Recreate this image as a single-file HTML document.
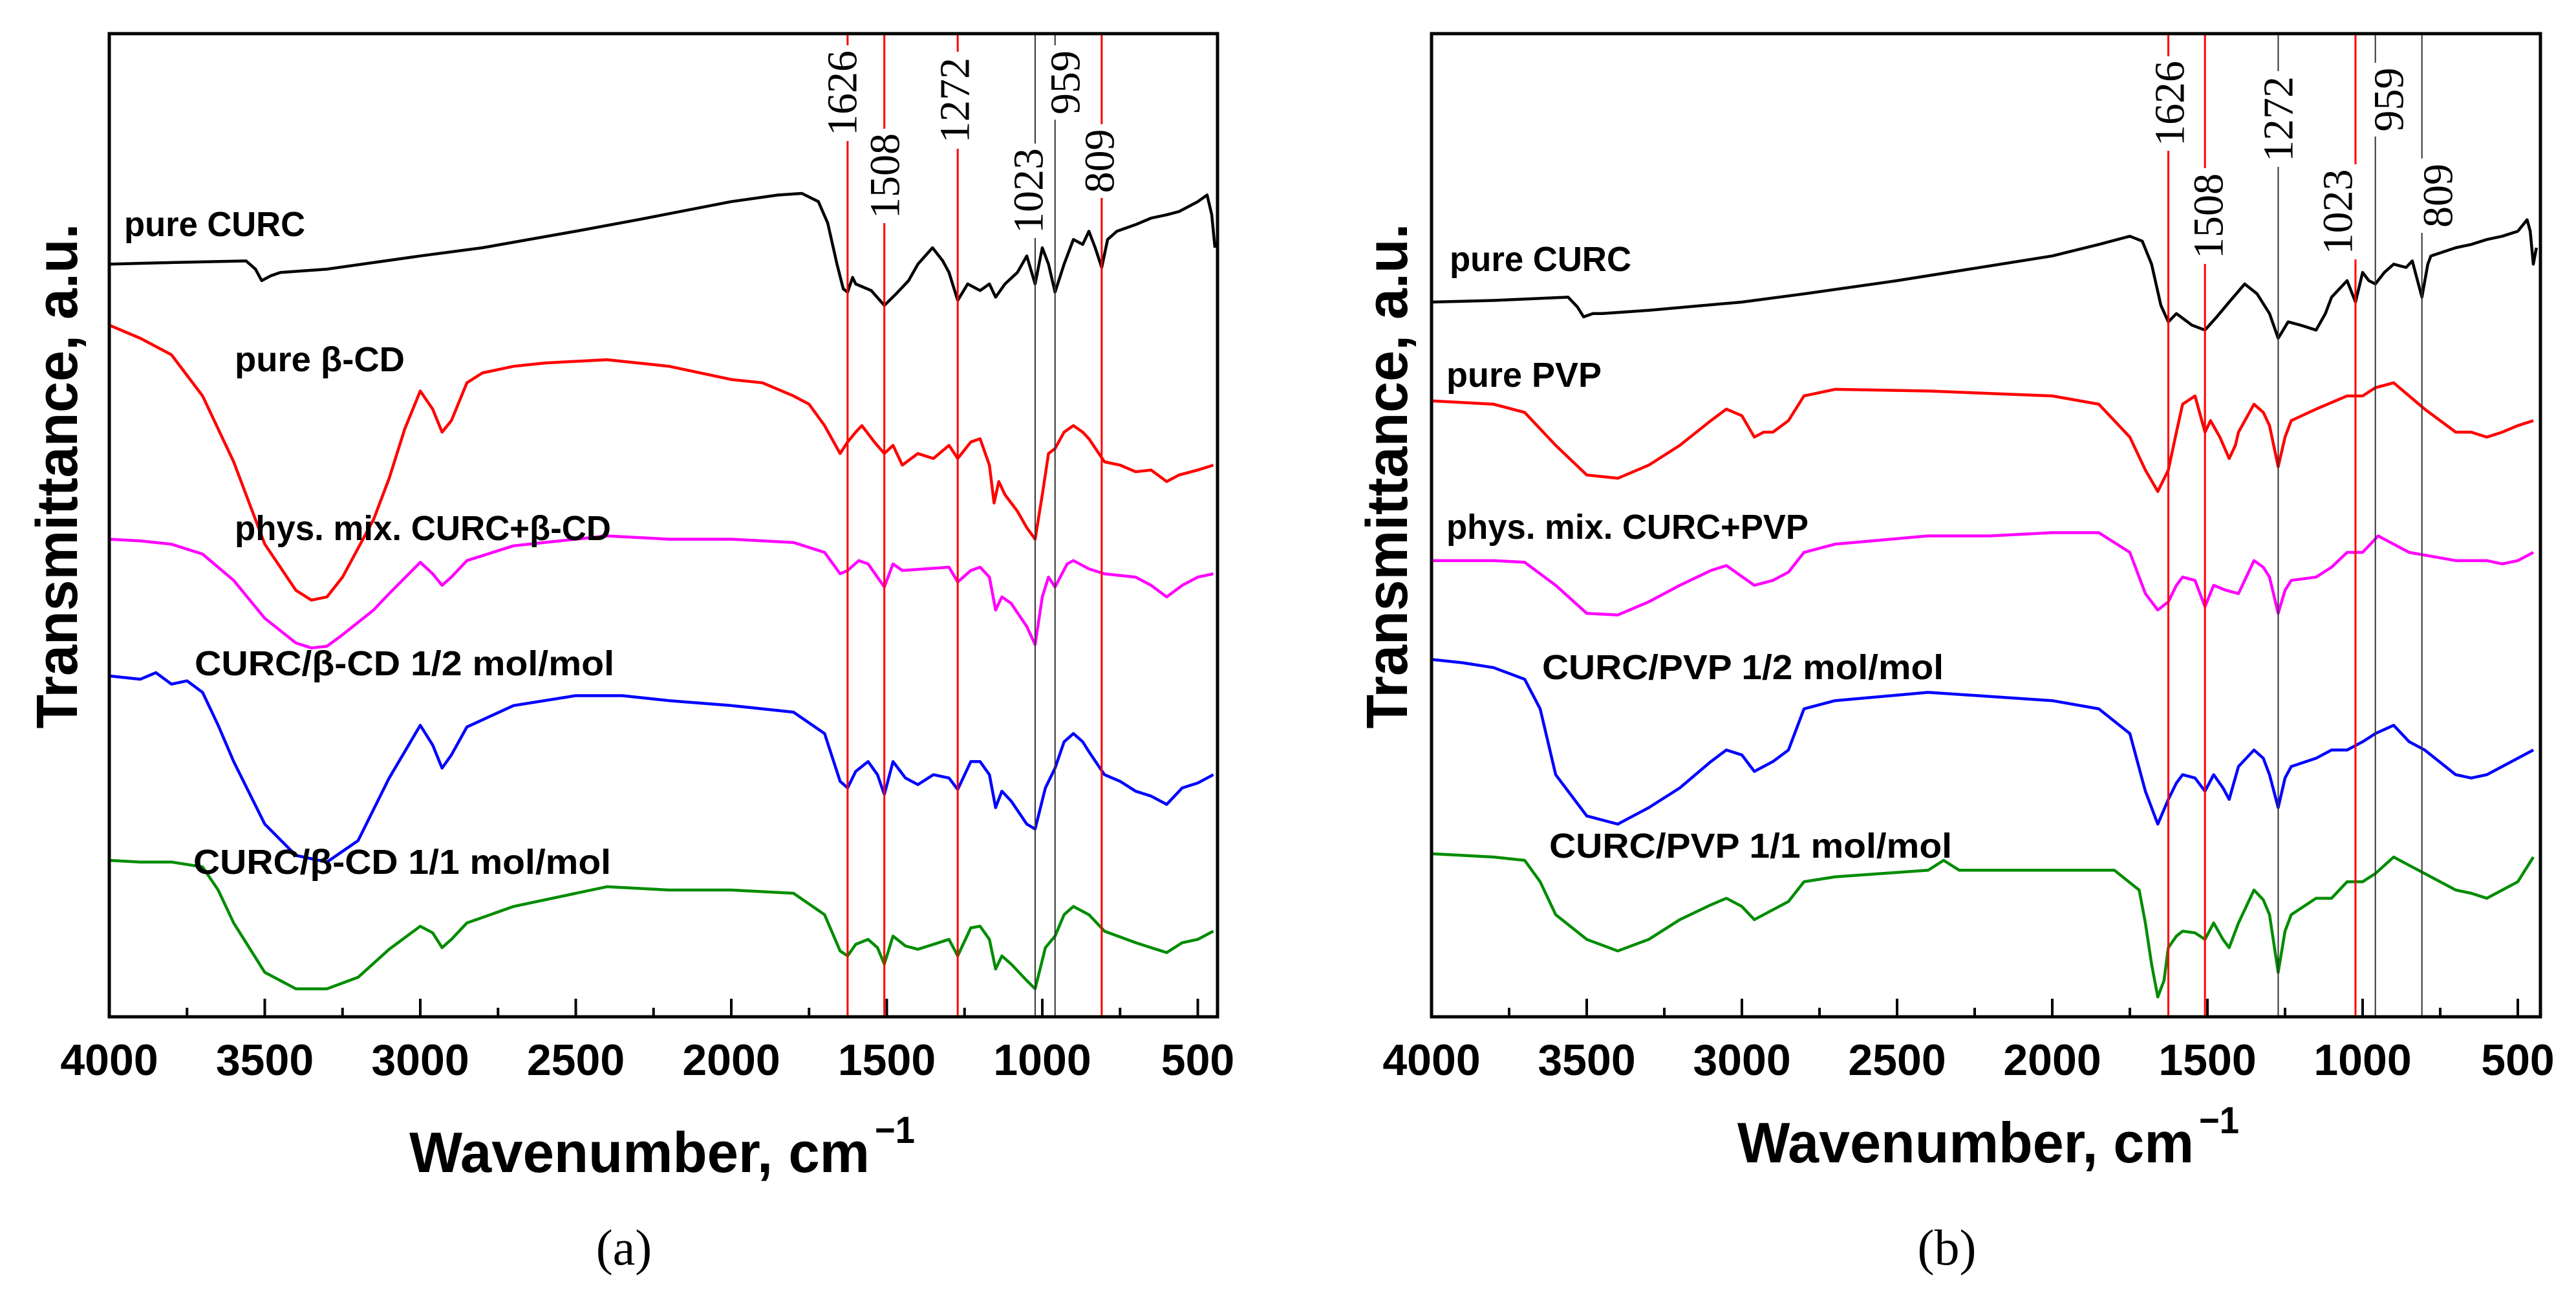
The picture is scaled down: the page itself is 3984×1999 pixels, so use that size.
<!DOCTYPE html>
<html><head><meta charset="utf-8"><style>
html,body{margin:0;padding:0;background:#fff;}
svg{display:block;}
</style></head><body>
<svg id="fig" xmlns="http://www.w3.org/2000/svg" width="3984" height="1999" viewBox="0 0 3984 1999">
<rect x="0" y="0" width="3984" height="1999" fill="#fff"/>
<g id="pa"></g>
<g id="pb"></g>
</svg>
<script>
// ---- data (wavenumber, offset-from-top units; larger = lower transmittance) ----
const tickLabels = [4000,3500,3000,2500,2000,1500,1000,500];
const minorTicks = [3750,3250,2750,2250,1750,1250,750];
const peaksA = [1626,1508,1272,1023,959,809];
const peakColorsA = ['red','red','red','black','black','red'];
const peaksB = [1626,1508,1272,1023,959,809];
const peakColorsB = ['red','red','black','red','black','black'];

const aCurc = [[4000,160],[3800,159],[3560,158],[3530,163],[3510,170],[3480,167],[3450,165],[3300,163],[3000,155],[2800,150],[2500,140],[2300,133],[2000,122],[1850,118],[1773,117],[1720,122],[1690,135],[1660,160],[1640,175],[1626,177],[1610,168],[1600,172],[1550,176],[1508,185],[1470,178],[1430,170],[1400,160],[1353,150],[1320,158],[1300,165],[1272,182],[1240,172],[1200,176],[1170,172],[1150,180],[1120,172],[1080,165],[1050,155],[1023,172],[1000,150],[980,160],[959,177],[930,160],[900,145],[870,148],[850,140],[830,150],[809,162],[790,145],[760,140],[700,136],[650,132],[600,130],[560,128],[500,122],[470,118],[455,130],[445,150]];
const aBcd = [[4000,197],[3900,205],[3800,215],[3700,240],[3600,280],[3500,330],[3400,358],[3350,364],[3300,362],[3250,350],[3150,315],[3100,290],[3050,260],[3000,237],[2960,248],[2930,262],[2900,255],[2850,232],[2800,226],[2700,222],[2600,220],[2400,218],[2200,222],[2000,230],[1900,232],[1800,240],[1750,245],[1700,258],[1650,275],[1626,268],[1600,262],[1580,258],[1540,268],[1508,275],[1480,270],[1450,282],[1400,275],[1350,278],[1300,270],[1272,278],[1230,268],[1200,266],[1170,282],[1155,305],[1140,292],[1120,300],[1080,310],[1050,320],[1023,327],[1000,300],[980,275],[959,272],[930,262],[900,258],[870,262],[850,266],[800,280],[750,282],[700,286],[650,285],[600,292],[560,288],[500,285],[450,282]];
const aMix = [[4000,327],[3900,328],[3800,330],[3700,336],[3600,352],[3500,375],[3400,390],[3350,393],[3300,392],[3250,385],[3150,370],[3100,360],[3000,341],[2960,348],[2930,355],[2900,350],[2850,340],[2700,331],[2400,325],[2200,327],[2000,327],[1800,329],[1700,335],[1650,348],[1626,346],[1590,340],[1560,342],[1508,356],[1480,342],[1450,346],[1300,344],[1272,353],[1230,346],[1200,344],[1170,350],[1150,370],[1130,362],[1100,366],[1050,380],[1023,391],[1000,362],[980,350],[959,356],[920,342],[900,340],[850,345],[800,348],[700,350],[650,355],[600,362],[550,355],[500,350],[450,348]];
const aHalf = [[4000,410],[3900,412],[3850,408],[3800,415],[3750,413],[3700,420],[3650,440],[3600,462],[3500,500],[3400,519],[3300,523],[3200,510],[3100,472],[3000,440],[2960,452],[2930,466],[2900,458],[2850,441],[2700,428],[2500,422],[2350,422],[2200,425],[2000,428],[1800,432],[1700,445],[1650,474],[1626,478],[1600,468],[1560,462],[1530,470],[1508,482],[1480,462],[1440,472],[1400,476],[1350,470],[1300,472],[1272,479],[1230,462],[1200,462],[1170,470],[1150,490],[1130,480],[1100,486],[1050,500],[1023,503],[990,478],[959,466],[930,450],[900,445],[870,450],[850,456],[800,470],[750,474],[700,480],[650,483],[600,488],[550,478],[500,475],[450,470]];
const aOne = [[4000,522],[3900,523],[3800,523],[3700,526],[3650,540],[3600,560],[3500,590],[3400,600],[3300,600],[3200,593],[3100,576],[3000,562],[2960,566],[2930,575],[2900,570],[2850,560],[2700,550],[2400,538],[2200,540],[2000,540],[1800,542],[1700,555],[1650,577],[1626,580],[1600,573],[1560,570],[1530,575],[1508,585],[1480,568],[1440,574],[1400,576],[1300,570],[1272,580],[1230,563],[1200,562],[1170,570],[1150,588],[1130,580],[1100,585],[1050,595],[1023,600],[990,575],[959,568],[930,555],[900,550],[850,555],[800,565],[700,572],[650,575],[600,578],[550,572],[500,570],[450,565]];

const bCurc = [[4000,183],[3800,182],[3560,180],[3530,186],[3510,192],[3480,190],[3450,190],[3300,188],[3000,183],[2800,178],[2500,170],[2300,164],[2000,155],[1850,148],[1750,143],[1710,146],[1680,160],[1650,185],[1626,195],[1600,190],[1550,197],[1508,200],[1470,192],[1430,183],[1380,172],[1340,178],[1300,190],[1272,205],[1240,195],[1200,197],[1150,200],[1120,190],[1100,180],[1050,170],[1023,183],[1000,165],[980,170],[959,172],[930,165],[900,160],[860,162],[840,158],[809,180],[790,160],[780,155],[700,150],[650,148],[600,145],[550,143],[500,140],[470,133],[460,140],[450,160],[440,150]];
const bPvp = [[4000,243],[3800,245],[3700,250],[3600,270],[3500,288],[3400,290],[3300,282],[3200,270],[3100,255],[3050,248],[3000,252],[2960,265],[2930,262],[2900,262],[2850,255],[2800,240],[2700,236],[2400,237],[2000,240],[1850,245],[1750,265],[1700,285],[1660,298],[1626,285],[1600,262],[1580,245],[1540,240],[1508,262],[1490,255],[1460,265],[1430,278],[1410,270],[1400,262],[1350,245],[1320,250],[1300,258],[1272,283],[1250,265],[1230,255],[1150,248],[1050,240],[1000,240],[959,235],[900,232],[850,240],[800,248],[750,255],[700,262],[650,262],[600,265],[550,262],[500,258],[450,255]];
const bMix = [[4000,340],[3800,340],[3700,341],[3600,355],[3500,372],[3400,373],[3300,365],[3200,355],[3100,346],[3050,343],[2960,355],[2900,352],[2850,347],[2800,335],[2700,330],[2400,325],[2200,325],[2000,323],[1850,323],[1750,335],[1700,360],[1660,370],[1626,365],[1600,355],[1580,350],[1540,352],[1508,368],[1480,355],[1440,358],[1400,360],[1350,340],[1320,344],[1300,350],[1272,372],[1250,358],[1230,352],[1150,350],[1100,344],[1050,335],[1000,335],[950,325],[900,330],[850,335],[700,340],[600,340],[550,342],[500,340],[450,335]];
const bHalf = [[4000,400],[3900,402],[3800,405],[3700,412],[3650,430],[3600,470],[3500,495],[3400,500],[3300,490],[3200,478],[3100,462],[3050,455],[3000,458],[2960,468],[2900,462],[2850,455],[2800,430],[2700,425],[2400,420],[2000,425],[1850,430],[1750,445],[1700,480],[1660,500],[1626,485],[1600,475],[1580,470],[1540,472],[1508,480],[1480,470],[1450,478],[1430,485],[1400,465],[1350,455],[1320,460],[1300,470],[1272,490],[1250,472],[1230,465],[1150,460],[1100,455],[1050,455],[1000,450],[959,445],[900,440],[850,450],[800,455],[700,470],[650,472],[600,470],[550,465],[500,460],[450,455]];
const bOne = [[4000,518],[3800,520],[3700,522],[3650,535],[3600,555],[3500,570],[3400,577],[3300,570],[3200,558],[3100,549],[3050,545],[3000,550],[2960,558],[2900,552],[2850,547],[2800,535],[2700,532],[2400,528],[2350,522],[2300,528],[2000,528],[1800,528],[1720,540],[1700,560],[1680,585],[1660,605],[1640,595],[1626,575],[1600,568],[1580,565],[1540,566],[1508,570],[1480,560],[1450,570],[1430,575],[1400,560],[1350,540],[1320,546],[1300,555],[1272,590],[1250,565],[1230,555],[1150,545],[1100,545],[1050,535],[1000,535],[959,530],[900,520],[850,525],[800,530],[700,540],[650,542],[600,545],[550,540],[500,535],[450,520]];

// ---- layout ----
const NS = 'http://www.w3.org/2000/svg';
const TOP = 52, BOT = 1572;
function yScale(v){ return TOP + (v - 20) * (BOT - TOP) / 597; }
function mk(tag, attrs, parent){ const e = document.createElementNS(NS, tag); for (const k in attrs) e.setAttribute(k, attrs[k]); parent.appendChild(e); return e; }

function drawPanel(g, cfg){
  const xScale = w => cfg.x0 + (4000 - w) * cfg.k;
  // series
  cfg.series.forEach((s, i) => {
    const d = s.data.map((p, j) => (j ? 'L' : 'M') + xScale(p[0]).toFixed(1) + ' ' + yScale(p[1]).toFixed(1)).join(' ');
    const p = mk('path', {d: d, fill: 'none', stroke: s.color, 'stroke-width': 4.5, 'stroke-linejoin': 'round'}, g);
    
    
  });
  // peak lines
  cfg.peaks.forEach((pk, i) => {
    const x = xScale(pk);
    const l = mk('line', {x1: x, x2: x, y1: TOP, y2: BOT, stroke: cfg.peakColors[i] === 'red' ? '#ff0000' : '#333', 'stroke-width': cfg.peakColors[i] === 'red' ? 3 : 2}, g);
    
    
  });
  // peak labels
  cfg.peakLabels.forEach((pl, i) => {
    const cx = pl[0], y0 = pl[1], y1 = pl[2];
    const r = mk('rect', {x: cx - 30, y: y0 - 8, width: 60, height: y1 - y0 + 16, fill: '#fff'}, g);
    
    
    const cy = (y0 + y1) / 2;
    const t = mk('text', {x: cx, y: cy, transform: 'rotate(-90 ' + cx + ' ' + cy + ')', 'text-anchor': 'middle', 'dominant-baseline': 'central', 'font-family': '"Liberation Serif", serif', 'font-size': 66, fill: '#000'}, g);
    t.textContent = cfg.peaks[i];
    
    
  });
  // frame
  const fr = mk('rect', {x: cfg.x0, y: TOP, width: cfg.x1 - cfg.x0, height: BOT - TOP, fill: 'none', stroke: '#000', 'stroke-width': 5}, g);
  
  
  // ticks
  tickLabels.forEach(v => {
    const x = xScale(v);
    const tk = mk('line', {x1: x, x2: x, y1: BOT, y2: BOT - 28, stroke: '#000', 'stroke-width': 4}, g);
    
    
    const t = mk('text', {x: x, y: 1662, 'text-anchor': 'middle', 'font-family': '"Liberation Sans", sans-serif', 'font-weight': 'bold', 'font-size': 68, fill: '#000'}, g);
    t.textContent = v;
    
    
  });
  minorTicks.forEach(v => {
    const x = xScale(v);
    const tk = mk('line', {x1: x, x2: x, y1: BOT, y2: BOT - 14, stroke: '#000', 'stroke-width': 4}, g);
    
    
  });
  // series labels
  cfg.series.forEach(s => {
    const t = mk('text', {x: s.lx, y: s.ly, textLength: s.lw, lengthAdjust: 'spacingAndGlyphs', 'font-family': '"Liberation Sans", sans-serif', 'font-weight': 'bold', 'font-size': 54, fill: '#000'}, g);
    t.textContent = s.label;
    
    
  });
  // y title
  const yc = 736;
  const yt = mk('text', {x: cfg.ytx, y: yc, transform: 'rotate(-90 ' + cfg.ytx + ' ' + yc + ')', 'text-anchor': 'middle', 'dominant-baseline': 'central', textLength: 781, lengthAdjust: 'spacingAndGlyphs', 'font-family': '"Liberation Sans", sans-serif', 'font-weight': 'bold', 'font-size': 90, fill: '#000'}, g);
  yt.textContent = 'Transmittance, a.u.';
  
  
  // x title
  const xt = mk('text', {x: cfg.xtx, y: cfg.xty, textLength: cfg.xtw, lengthAdjust: 'spacingAndGlyphs', 'font-family': '"Liberation Sans", sans-serif', 'font-weight': 'bold', 'font-size': 88, fill: '#000'}, g);
  xt.textContent = 'Wavenumber, cm';
  
  
  const sup = mk('text', {x: cfg.xtx + cfg.xtw + 8, y: cfg.xty - 45, textLength: 62, lengthAdjust: 'spacingAndGlyphs', 'font-family': '"Liberation Sans", sans-serif', 'font-weight': 'bold', 'font-size': 58, fill: '#000'}, g);
  sup.textContent = '−1';
  
  
  // caption
  const cap = mk('text', {x: cfg.capx, y: 1955, 'text-anchor': 'middle', 'font-family': '"Liberation Serif", serif', 'font-size': 78, fill: '#000'}, g);
  cap.textContent = cfg.cap;
  
  
}

drawPanel(document.getElementById('pa'), {
  x0: 169, x1: 1883, k: 0.481,
  peaks: peaksA, peakColors: peakColorsA,
  peakLabels: [[1303,78,210],[1369,207,337],[1477,88,222],[1591,230,360],[1648,78,177],[1701,200,298]],
  series: [
    {name: 'pure-curc-a', label: 'pure CURC', data: aCurc, color: '#000000', lx: 192, ly: 365, lw: 280},
    {name: 'pure-beta-cd', label: 'pure β-CD', data: aBcd, color: '#ff0000', lx: 363, ly: 574, lw: 263},
    {name: 'phys-mix-beta-cd', label: 'phys. mix. CURC+β-CD', data: aMix, color: '#ff00ff', lx: 363, ly: 835, lw: 582},
    {name: 'curc-beta-cd-1-2', label: 'CURC/β-CD 1/2 mol/mol', data: aHalf, color: '#0000ff', lx: 301, ly: 1044, lw: 649},
    {name: 'curc-beta-cd-1-1', label: 'CURC/β-CD 1/1 mol/mol', data: aOne, color: '#008c00', lx: 299, ly: 1351, lw: 646}
  ],
  ytx: 89, xtx: 633, xty: 1812, xtw: 712, capx: 965, cap: '(a)'
});
drawPanel(document.getElementById('pb'), {
  x0: 2214, x1: 3929, k: 0.48,
  peaks: peaksB, peakColors: peakColorsB,
  peakLabels: [[3356,95,225],[3416,268,400],[3524,118,250],[3616,262,393],[3695,105,203],[3771,253,352]],
  series: [
    {name: 'pure-curc-b', label: 'pure CURC', data: bCurc, color: '#000000', lx: 2242, ly: 419, lw: 281},
    {name: 'pure-pvp', label: 'pure PVP', data: bPvp, color: '#ff0000', lx: 2237, ly: 598, lw: 240},
    {name: 'phys-mix-pvp', label: 'phys. mix. CURC+PVP', data: bMix, color: '#ff00ff', lx: 2237, ly: 833, lw: 560},
    {name: 'curc-pvp-1-2', label: 'CURC/PVP 1/2 mol/mol', data: bHalf, color: '#0000ff', lx: 2385, ly: 1050, lw: 621},
    {name: 'curc-pvp-1-1', label: 'CURC/PVP 1/1 mol/mol', data: bOne, color: '#008c00', lx: 2396, ly: 1326, lw: 623}
  ],
  ytx: 2146, xtx: 2687, xty: 1797, xtw: 706, capx: 3011, cap: '(b)'
});
</script>
</body></html>
